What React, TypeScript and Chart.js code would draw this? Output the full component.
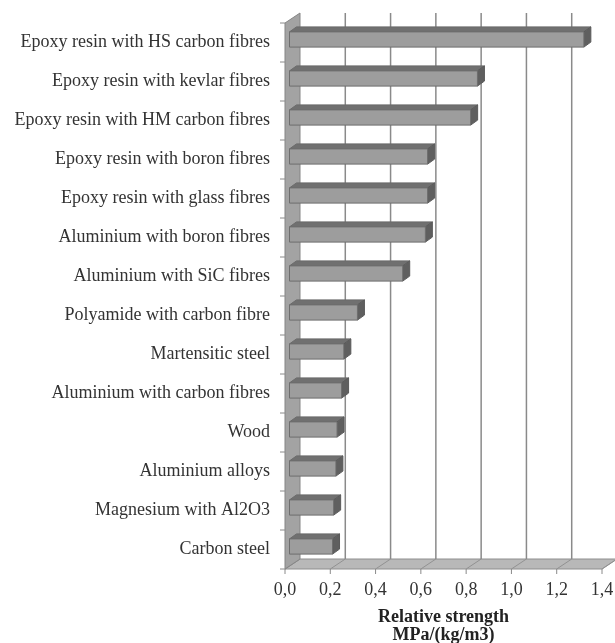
import React, { useEffect, useRef } from 'react';
import { Chart, registerables } from 'chart.js';

Chart.register(...registerables);

// Materials, top to bottom
const materials = [
  'Epoxy resin with HS carbon fibres',
  'Epoxy resin with kevlar fibres',
  'Epoxy resin with HM carbon fibres',
  'Epoxy resin with boron fibres',
  'Epoxy resin with glass fibres',
  'Aluminium with boron fibres',
  'Aluminium with SiC fibres',
  'Polyamide with carbon fibre',
  'Martensitic steel',
  'Aluminium with carbon fibres',
  'Wood',
  'Aluminium alloys',
  'Magnesium with Al2O3',
  'Carbon steel',
];

// Relative strength, MPa/(kg/m3)
const relativeStrength = [1.3, 0.83, 0.8, 0.61, 0.61, 0.6, 0.5, 0.3, 0.24, 0.23, 0.21, 0.205, 0.195, 0.19];

const strengthTicks = ['0,0', '0,2', '0,4', '0,6', '0,8', '1,0', '1,2', '1,4'];

const axisTitle = ['Relative strength', 'MPa/(kg/m3)'];

// Oblique projection offsets for the pseudo-3D look
const WALL = { dx: 15, dy: -10 };
const BAR_SHIFT = { dx: 4.5, dy: -3 };
const BAR_DEPTH = { dx: 7, dy: -5 };

const poly = (ctx: CanvasRenderingContext2D, pts: number[][], fill: string, stroke: string) => {
  ctx.beginPath();
  ctx.moveTo(pts[0][0], pts[0][1]);
  for (let i = 1; i < pts.length; i++) ctx.lineTo(pts[i][0], pts[i][1]);
  ctx.closePath();
  ctx.fillStyle = fill;
  ctx.fill();
  ctx.strokeStyle = stroke;
  ctx.stroke();
};

const depthPlugin = {
  id: 'depth3d',
  beforeDatasetsDraw(chart: any) {
    const { ctx, chartArea, scales } = chart;
    const { left, right, top, bottom } = chartArea;
    const xs = scales.x;
    ctx.save();
    ctx.lineWidth = 1;

    // floor
    poly(ctx, [[left, bottom], [right, bottom], [right + WALL.dx, bottom + WALL.dy], [left + WALL.dx, bottom + WALL.dy]], '#b8b8b8', '#8e8e8e');

    xs.ticks.forEach((t: any) => {
      const px = xs.getPixelForValue(t.value);
      // floor division
      ctx.strokeStyle = '#929292';
      ctx.beginPath();
      ctx.moveTo(px, bottom);
      ctx.lineTo(px + WALL.dx, bottom + WALL.dy);
      ctx.stroke();
      // back wall gridline
      if (t.value > 0) {
        ctx.strokeStyle = '#8a8a8a';
        ctx.lineWidth = 1.5;
        ctx.beginPath();
        ctx.moveTo(px + WALL.dx, top + WALL.dy);
        ctx.lineTo(px + WALL.dx, bottom + WALL.dy);
        ctx.stroke();
        ctx.lineWidth = 1;
      }
      // tick mark below the floor
      ctx.strokeStyle = '#8a8a8a';
      ctx.beginPath();
      ctx.moveTo(px, bottom);
      ctx.lineTo(px, bottom + 5);
      ctx.stroke();
    });

    // left wall
    poly(ctx, [[left, top], [left + WALL.dx, top + WALL.dy], [left + WALL.dx, bottom + WALL.dy], [left, bottom]], '#a3a3a3', '#858585');

    // category tick marks
    const n = materials.length;
    ctx.strokeStyle = '#8a8a8a';
    for (let i = 0; i <= n; i++) {
      const yy = top + (i * (bottom - top)) / n;
      ctx.beginPath();
      ctx.moveTo(left - 5, yy);
      ctx.lineTo(left, yy);
      ctx.stroke();
    }
    ctx.restore();
  },
  afterDatasetsDraw(chart: any) {
    const { ctx, scales } = chart;
    const base = scales.x.getPixelForValue(0);
    const meta = chart.getDatasetMeta(0);
    ctx.save();
    ctx.lineWidth = 1;
    meta.data.forEach((bar: any) => {
      const { x, y, height } = bar.getProps(['x', 'y', 'height'], true);
      const x0 = base + BAR_SHIFT.dx;
      const x1 = x + BAR_SHIFT.dx;
      const y0 = y - height / 2 + BAR_SHIFT.dy;
      const y1 = y + height / 2 + BAR_SHIFT.dy;
      // top face
      poly(ctx, [[x0, y0], [x0 + BAR_DEPTH.dx, y0 + BAR_DEPTH.dy], [x1 + BAR_DEPTH.dx, y0 + BAR_DEPTH.dy], [x1, y0]], '#707070', '#6a6a6a');
      // end face
      poly(ctx, [[x1, y0], [x1 + BAR_DEPTH.dx, y0 + BAR_DEPTH.dy], [x1 + BAR_DEPTH.dx, y1 + BAR_DEPTH.dy], [x1, y1]], '#5f5f5f', '#5a5a5a');
      // front face
      poly(ctx, [[x0, y0], [x1, y0], [x1, y1], [x0, y1]], '#9d9d9d', '#6e6e6e');
    });
    ctx.restore();
  },
};

export default function App() {
  const canvasRef = useRef<HTMLCanvasElement | null>(null);

  useEffect(() => {
    if (!canvasRef.current) return;
    const chart = new Chart(canvasRef.current, {
      type: 'bar',
      data: {
        labels: materials,
        datasets: [
          {
            data: relativeStrength,
            backgroundColor: 'rgba(0,0,0,0)',
            borderWidth: 0,
            barPercentage: 0.39,
            categoryPercentage: 1,
          },
        ],
      },
      options: {
        indexAxis: 'y',
        animation: false,
        responsive: true,
        maintainAspectRatio: false,
        layout: { padding: { left: 0, right: 13, top: 23, bottom: 0 } },
        plugins: { legend: { display: false }, tooltip: { enabled: false } },
        scales: {
          x: {
            type: 'linear',
            min: 0,
            max: 1.4,
            grid: { display: false, drawTicks: false },
            border: { display: false },
            ticks: {
              stepSize: 0.2,
              padding: 10,
              color: '#333',
              font: { family: 'Liberation Serif', size: 18 },
              callback: (_v: any, i: number) => strengthTicks[i],
            },
            title: {
              display: true,
              text: axisTitle,
              color: '#222',
              padding: { top: 0, bottom: -1 },
              font: { family: 'Liberation Serif', size: 18, weight: 'bold', lineHeight: '18px' },
            },
            afterFit: (s: any) => {
              s.height = 74;
              s.paddingLeft = 0;
              s.paddingRight = 0;
            },
          },
          y: {
            type: 'category',
            grid: { display: false, drawTicks: false },
            border: { display: false },
            ticks: {
              padding: 15,
              color: '#333',
              autoSkip: false,
              font: { family: 'Liberation Serif', size: 18 },
            },
            afterFit: (s: any) => {
              s.width = 285;
              s.paddingTop = 0;
              s.paddingBottom = 0;
            },
          },
        },
      },
      plugins: [depthPlugin],
    } as any);
    return () => chart.destroy();
  }, []);

  return (
    <div style={{ position: 'absolute', left: 0, top: 0, width: 615, height: 643, background: '#fff' }}>
      <canvas ref={canvasRef} />
    </div>
  );
}
